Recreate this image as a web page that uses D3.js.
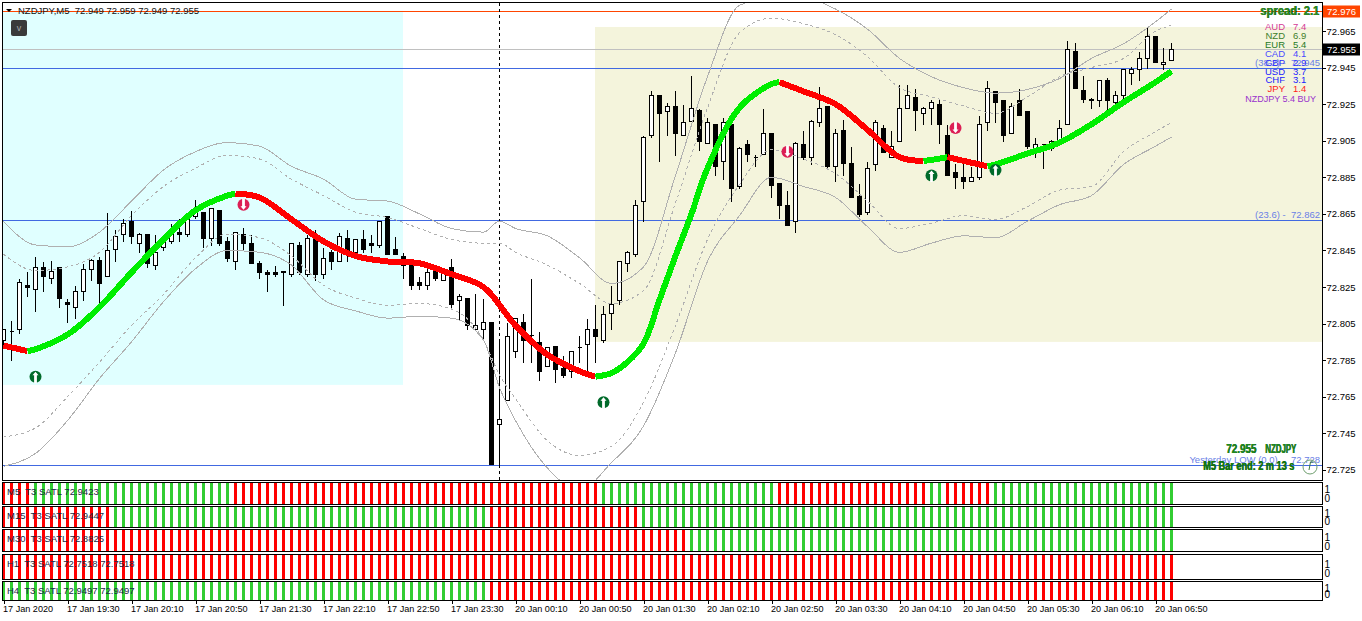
<!DOCTYPE html>
<html>
<head>
<meta charset="utf-8">
<script src="https://cdnjs.cloudflare.com/ajax/libs/d3/7.8.5/d3.min.js"></script>
<style>
  body { margin: 0; background: #fff; }
  text { font-family: "Liberation Sans", sans-serif; font-size: 9.5px; white-space: pre; }
</style>
</head>
<body>
<div id="chart-area"></div>
<script>
// candles, one value per M5 bar
const candleOpen = [
  72.796,72.801,72.802,72.826,72.824,72.836,72.830,72.836,72.817,72.814,
  72.823,72.835,72.840,72.831,72.846,72.854,72.861,72.849,72.854,72.837,
  72.847,72.850,72.855,72.854,72.864,72.866,72.852,72.867,72.850,72.839,
  72.854,72.849,72.838,72.833,72.833,72.833,72.832,72.848,72.832,72.854,
  72.832,72.844,72.839,72.852,72.844,72.851,72.849,72.848,72.864,72.846,
  72.842,72.837,72.828,72.826,72.834,72.829,72.836,72.818,72.819,72.802,
  72.802,72.806,72.750,72.763,72.790,72.806,72.799,72.795,72.782,72.793,
  72.781,72.779,72.792,72.794,72.802,72.796,72.811,72.818,72.838,72.843,
  72.872,72.908,72.930,72.921,72.924,72.908,72.916,72.922,72.904,72.914,
  72.894,72.914,72.880,72.903,72.896,72.898,72.909,72.882,72.870,72.861,
  72.903,72.896,72.915,72.924,72.891,72.911,72.893,72.875,72.866,72.892,
  72.912,72.896,72.905,72.923,72.929,72.920,72.923,72.925,72.908,72.888,
  72.885,72.883,72.885,72.915,72.932,72.927,72.909,72.927,72.921,72.901,
  72.903,72.901,72.905,72.914,72.954,72.933,72.927,72.927,72.938,72.926,
  72.930,72.942,72.944,72.950,72.962,72.947,72.949];
const candleHigh = [
  72.802,72.807,72.830,72.834,72.842,72.839,72.840,72.836,72.819,72.826,
  72.838,72.841,72.842,72.866,72.857,72.863,72.867,72.855,72.854,72.854,
  72.851,72.860,72.863,72.866,72.873,72.866,72.868,72.867,72.853,72.855,
  72.858,72.854,72.840,72.835,72.837,72.834,72.849,72.850,72.854,72.857,
  72.847,72.846,72.855,72.857,72.852,72.857,72.854,72.861,72.864,72.853,
  72.844,72.837,72.831,72.838,72.836,72.835,72.841,72.822,72.819,72.822,
  72.819,72.806,72.797,72.806,72.808,72.811,72.830,72.801,72.792,72.793,
  72.788,72.790,72.799,72.808,72.816,72.815,72.826,72.839,72.845,72.873,
  72.908,72.933,72.930,72.926,72.933,72.925,72.941,72.923,72.918,72.914,
  72.918,72.914,72.902,72.906,72.898,72.923,72.909,72.882,72.878,72.905,
  72.911,72.917,72.935,72.924,72.912,72.917,72.902,72.882,72.894,72.917,
  72.914,72.911,72.936,72.936,72.934,72.924,72.928,72.928,72.914,72.893,
  72.893,72.891,72.919,72.938,72.932,72.927,72.926,72.934,72.921,72.907,
  72.904,72.906,72.917,72.960,72.959,72.941,72.929,72.938,72.940,72.933,
  72.945,72.946,72.954,72.967,72.963,72.956,72.959];
const candleLow = [
  72.793,72.785,72.800,72.820,72.812,72.823,72.827,72.814,72.806,72.808,
  72.818,72.829,72.816,72.831,72.839,72.850,72.849,72.844,72.836,72.835,
  72.845,72.849,72.850,72.853,72.863,72.847,72.848,72.848,72.839,72.835,
  72.846,72.838,72.830,72.823,72.831,72.815,72.831,72.832,72.831,72.829,
  72.830,72.835,72.839,72.839,72.843,72.844,72.844,72.847,72.843,72.843,
  72.830,72.824,72.824,72.824,72.829,72.829,72.814,72.807,72.802,72.802,
  72.796,72.728,72.728,72.763,72.787,72.784,72.784,72.774,72.782,72.773,
  72.776,72.776,72.784,72.779,72.784,72.795,72.802,72.816,72.834,72.842,
  72.861,72.907,72.894,72.908,72.897,72.908,72.916,72.900,72.904,72.886,
  72.884,72.872,72.879,72.894,72.891,72.898,72.874,72.863,72.859,72.855,
  72.895,72.892,72.913,72.890,72.883,72.886,72.874,72.864,72.865,72.889,
  72.899,72.896,72.905,72.923,72.911,72.914,72.914,72.904,72.886,72.879,
  72.879,72.883,72.884,72.911,72.915,72.905,72.909,72.919,72.901,72.896,
  72.890,72.900,72.905,72.914,72.934,72.926,72.923,72.924,72.921,72.924,
  72.925,72.936,72.938,72.945,72.948,72.944,72.949];
const candleClose = [
  72.802,72.801,72.828,72.825,72.836,72.831,72.834,72.819,72.816,72.823,
  72.835,72.840,72.827,72.845,72.853,72.860,72.853,72.854,72.838,72.844,
  72.850,72.856,72.854,72.863,72.866,72.852,72.868,72.849,72.841,72.855,
  72.849,72.838,72.833,72.832,72.832,72.834,72.849,72.833,72.852,72.832,
  72.841,72.839,72.853,72.845,72.851,72.846,72.848,72.861,72.843,72.843,
  72.837,72.826,72.826,72.833,72.830,72.833,72.816,72.820,72.804,72.804,
  72.806,72.728,72.753,72.798,72.808,72.796,72.799,72.779,72.792,72.780,
  72.777,72.790,72.792,72.802,72.798,72.810,72.816,72.839,72.844,72.870,
  72.907,72.930,72.920,72.924,72.909,72.915,72.923,72.905,72.915,72.891,
  72.915,72.879,72.901,72.898,72.896,72.909,72.881,72.870,72.859,72.904,
  72.896,72.916,72.923,72.891,72.909,72.893,72.874,72.865,72.890,72.915,
  72.899,72.902,72.923,72.930,72.922,72.923,72.926,72.914,72.886,72.885,
  72.883,72.885,72.914,72.934,72.926,72.908,72.924,72.919,72.902,72.903,
  72.903,72.905,72.912,72.955,72.934,72.928,72.928,72.938,72.927,72.930,
  72.944,72.944,72.950,72.962,72.948,72.948,72.955];

// envelope bands, read every 4th bar
const bandBars = [0,4,8,12,16,20,24,28,32,36,40,44,48,52,56,60,62,64,68,72,76,80,84,88,92,96,100,104,108,112,116,120,124,128,132,136,140,144,146];
const upperOuter = [72.861,72.848,72.847,72.855,72.872,72.889,72.899,72.904,72.902,72.891,72.884,72.873,72.872,72.865,72.857,72.855,72.861,72.857,72.853,72.841,72.827,72.836,72.886,72.940,72.979,72.983,72.983,72.977,72.966,72.950,72.940,72.934,72.931,72.933,72.939,72.950,72.958,72.970,72.977];
const upperInner = [72.843,72.834,72.836,72.844,72.864,72.880,72.890,72.897,72.895,72.884,72.875,72.866,72.863,72.857,72.851,72.849,72.849,72.844,72.837,72.827,72.816,72.823,72.871,72.923,72.964,72.972,72.969,72.963,72.951,72.934,72.929,72.924,72.920,72.929,72.940,72.945,72.950,72.965,72.968];
const lowerInner = [72.743,72.748,72.765,72.784,72.804,72.821,72.841,72.854,72.852,72.842,72.826,72.819,72.815,72.816,72.813,72.796,72.777,72.764,72.741,72.733,72.738,72.762,72.804,72.851,72.881,72.900,72.895,72.887,72.872,72.857,72.860,72.864,72.862,72.869,72.878,72.880,72.899,72.910,72.915];
const lowerOuter = [72.727,72.734,72.752,72.775,72.795,72.817,72.835,72.845,72.844,72.837,72.818,72.812,72.808,72.809,72.808,72.796,72.770,72.752,72.726,72.714,72.729,72.749,72.789,72.839,72.864,72.885,72.880,72.874,72.858,72.844,72.849,72.853,72.852,72.861,72.870,72.875,72.892,72.902,72.907];

// T3 line
const t3Bars = [0,3,4,8,12,16,20,24,28,29,32,36,40,44,48,52,56,60,64,68,72,74,76,78,80,82,84,86,88,92,96,97,100,104,108,112,115,116,118,120,123,124,128,132,136,140,144,146];
const t3Values = [72.793,72.790,72.791,72.799,72.814,72.833,72.851,72.867,72.875,72.876,72.874,72.862,72.850,72.842,72.839,72.838,72.832,72.825,72.804,72.788,72.779,72.776,72.778,72.784,72.794,72.818,72.842,72.865,72.890,72.923,72.936,72.937,72.932,72.925,72.911,72.896,72.894,72.8945,72.896,72.894,72.891,72.892,72.898,72.904,72.914,72.926,72.937,72.943];
const t3Flips = [3,29,74,97,115,118,123];
// first bar of each new colour in the rows
const m5Flips = [4,29,75,97,116,118,124];
const m15Flips = [14,61,80];
const m30Flips = [86];
const h1Flips = [];
const h4Flips = [61];

// fibo levels and price lines
const fiboLevels = [72.9447, 72.8615, 72.7275];
const fiboLabels = ["(38.2) -  72.945", "(23.6) -  72.862", "Yesterday LOW (0.0)     72.728"];
const askPrice = 72.976;
const bidPrice = 72.955;

// session boxes: from bar, to bar, top price, bottom price
const boxBars = [[0, 50], [74, 165.5]];
const boxPrices = [[72.976, 72.7715], [72.9672, 72.795]];
const separatorBar = 62;

// arrows
const buyBars = [4, 75, 116, 124];
const buyPrices = [72.776, 72.762, 72.886, 72.889];
const sellBars = [30, 98, 119];
const sellPrices = [72.870, 72.899, 72.912];

// strength table
const currencies = ["AUD","NZD","EUR","CAD","GBP","USD","CHF","JPY"];
const strengths = ["7.4","6.9","5.4","4.1","2.9","3.7","3.1","1.4"];
const currencyColors = ["#d43a96","#3f7f2a","#1f7a1f","#4a4aff","#2a2aff","#1a1aff","#1a1aff","#ff1a1a"];

// axes
const priceTicks = [72.965,72.945,72.925,72.905,72.885,72.865,72.845,72.825,72.805,72.785,72.765,72.745,72.725];
const timeBars = [0,8,16,24,32,40,48,56,64,72,80,88,96,104,112,120,128,136,144];
const timeLabels = ["17 Jan 2020","17 Jan 19:30","17 Jan 20:10","17 Jan 20:50","17 Jan 21:30","17 Jan 22:10","17 Jan 22:50","17 Jan 23:30","20 Jan 00:10","20 Jan 00:50","20 Jan 01:30","20 Jan 02:10","20 Jan 02:50","20 Jan 03:30","20 Jan 04:10","20 Jan 04:50","20 Jan 05:30","20 Jan 06:10","20 Jan 06:50"];

// setting chart dimensions
const width = 1362, height = 621;
const frame = { lft: 2.5, rht: 1322.5, top: 2.5, bot: 480.5 };

const svg = d3.select("#chart-area")
  .append("svg")
    .attr("width", width)
    .attr("height", height)
    .style("display", "block");

svg.append("clipPath").attr("id", "main-clip")
  .append("rect")
    .attr("x", frame.lft).attr("y", frame.top)
    .attr("width", frame.rht - frame.lft)
    .attr("height", frame.bot - frame.top);

const x = d3.scaleLinear().domain([0, 146]).range([3.5, 1171.5]);
const y = d3.scaleLinear().domain([72.7195, 72.9803]).range([480, 3]);
const py = (v) => Math.round(y(v)) + 0.5;

const g = svg.append("g").attr("clip-path", "url(#main-clip)");

// boxes
g.selectAll("rect.box")
  .data(boxBars)
  .enter().append("rect")
    .attr("class", "box")
    .attr("x", (d) => x(d[0]) - 0.5)
    .attr("width", (d) => x(d[1]) - x(d[0]))
    .attr("y", (d, i) => y(boxPrices[i][0]))
    .attr("height", (d, i) => y(boxPrices[i][1]) - y(boxPrices[i][0]))
    .attr("fill", (d, i) => i === 0 ? "#e0ffff" : "#f4f4dc");

// horizontal lines
const hline = (price, color) => g.append("line")
  .attr("x1", frame.lft).attr("x2", frame.rht)
  .attr("y1", py(price)).attr("y2", py(price))
  .attr("stroke", color)
  .attr("shape-rendering", "crispEdges");

hline(bidPrice, "#c0c0c0");
hline(askPrice, "#ff4500");
fiboLevels.forEach((d) => hline(d, "#4169e1"));

// period separator
g.append("line")
  .attr("x1", x(separatorBar)).attr("x2", x(separatorBar))
  .attr("y1", frame.top).attr("y2", frame.bot)
  .attr("stroke", "#000")
  .attr("stroke-dasharray", "3,3")
  .attr("shape-rendering", "crispEdges");

// candles
const candles = g.selectAll("g.candle")
  .data(candleOpen)
  .enter().append("g")
    .attr("class", "candle")
    .attr("stroke", "#000")
    .attr("shape-rendering", "crispEdges");

candles.append("line")
  .attr("x1", (d, i) => x(i)).attr("x2", (d, i) => x(i))
  .attr("y1", (d, i) => py(candleHigh[i]))
  .attr("y2", (d, i) => py(candleLow[i]) + 0.5);

candles.append("path")
  .attr("d", (d, i) => {
    const t = py(Math.max(d, candleClose[i]));
    const b = py(Math.min(d, candleClose[i]));
    return `M${x(i) - 2},${t}H${x(i) + 2}V${b}H${x(i) - 2}Z`;
  })
  .attr("fill", (d, i) => candleClose[i] < d ? "#000" : "#fff");

// bands
const bandLine = d3.line()
  .x((d, i) => x(bandBars[i]))
  .y((d) => y(d))
  .curve(d3.curveMonotoneX);

[upperOuter, lowerOuter, upperInner, lowerInner].forEach((band, k) => {
  g.append("path")
    .attr("d", bandLine(band))
    .attr("fill", "none")
    .attr("stroke", "#b0b0b0")
    .attr("stroke-dasharray", k > 1 ? "3,3" : null)
    .attr("shape-rendering", "crispEdges");
});

// T3 line, cut at each flip
const t3Line = d3.line()
  .x((d) => x(t3Bars[d]))
  .y((d) => y(t3Values[d]))
  .curve(d3.curveCatmullRom);

const cuts = [0].concat(t3Flips.map((f) => t3Bars.indexOf(f)), [t3Bars.length - 1]);
d3.pairs(cuts).forEach((c, i) => {
  g.append("path")
    .attr("d", t3Line(d3.range(c[0], c[1] + 1)))
    .attr("fill", "none")
    .attr("stroke", i % 2 === 0 ? "#ff0000" : "#00ee00")
    .attr("stroke-width", 6)
    .attr("shape-rendering", "crispEdges");
});

// arrows
const arrow = (bar, price, color, up) => {
  const a = g.append("g")
    .attr("transform", `translate(${x(bar)},${y(price)})${up ? "" : " rotate(180)"}`);
  a.append("circle").attr("r", 6).attr("fill", color);
  a.append("path")
    .attr("d", "M0,-5L3,-1.5H1.4V6.5H-1.4V-1.5H-3Z")
    .attr("fill", "#fff");
};
buyBars.forEach((b, i) => arrow(b, buyPrices[i], "#006a2a", true));
sellBars.forEach((b, i) => arrow(b, sellPrices[i], "#dc1f55", false));

// fibo labels
fiboLevels.forEach((d, i) => {
  svg.append("text")
    .attr("x", 1320)
    .attr("y", py(d) - 3)
    .attr("text-anchor", "end")
    .attr("fill", "#6a80e6")
    .text(fiboLabels[i]);
});

// strength table
currencies.forEach((d, i) => {
  svg.append("text").attr("x", 1285).attr("y", 30 + i * 8.9)
    .attr("text-anchor", "end").attr("fill", currencyColors[i]).text(d);
  svg.append("text").attr("x", 1293).attr("y", 30 + i * 8.9)
    .attr("fill", currencyColors[i]).text(strengths[i]);
});
svg.append("text").attr("x", 1316).attr("y", 102)
  .attr("text-anchor", "end").attr("fill", "#9932cc")
  .style("font-size", "9px").text("NZDJPY 5.4 BUY");

// bold labels with a dark edge, squeezed to the width they have on screen
const loud = (txt, px, py0, len, size, fill) => {
  [["#0b4f0b", 0.6], [fill, 0]].forEach((s) => {
    svg.append("text")
      .attr("x", px + s[1]).attr("y", py0 + s[1] / 2)
      .attr("font-weight", "bold")
      .attr("textLength", len)
      .attr("lengthAdjust", "spacingAndGlyphs")
      .style("font-size", size + "px")
      .attr("fill", s[0])
      .text(txt);
  });
};
loud("spread: 2.1", 1260, 15, 59, 12, "#2e8b22");
loud("72.955", 1226, 452.5, 30, 13, "#1f8a1f");
loud("NZDJPY", 1265, 452.5, 31, 13, "#1f8a1f");
loud("M5 Bar end: 2 m 13 s", 1203, 469.5, 91, 13, "#0f7a0f");

// clock
const clock = svg.append("g").attr("transform", "translate(1310,467)");
clock.append("circle").attr("r", 7).attr("fill", "none").attr("stroke", "#6f9f6f");
clock.append("path").attr("d", "M0.5,-5L-1,3M0.5,-5H3").attr("fill", "none").attr("stroke", "#3f7f3f");

// header
svg.append("path").attr("d", "M6,9H12L9,12Z").attr("fill", "#000");
svg.append("text").attr("x", 18).attr("y", 14).attr("fill", "#111")
  .text("NZDJPY,M5  72.949 72.959 72.949 72.955");
svg.append("rect").attr("x", 11).attr("y", 20).attr("width", 16).attr("height", 16)
  .attr("rx", 2).attr("fill", "#3a3a3a");
svg.append("text").attr("x", 19).attr("y", 31).attr("text-anchor", "middle")
  .attr("fill", "#aaa").style("font-size", "9px").text("v");

// indicator rows
const rowNames = ["M5  T3 SATL 72.9423", "M15  T3 SATL 72.9447", "M30  T3 SATL 72.8825", "H1  T3 SATL 72.7518 72.7518", "H4  T3 SATL 72.9497 72.9497"];
const rowFlips = [m5Flips, m15Flips, m30Flips, h1Flips, h4Flips];
const rowStartGreen = [false, false, false, false, true];
const rowTops = [482.5, 506.5, 529.5, 554.5, 581.5];
const rowBots = [504.5, 527.5, 551.5, 579.5, 600.5];
const rowTextY = [494.5, 518.5, 542, 567, 594];
const rowOne = [489, 513, 537, 564, 588];
const rowZero = [498, 521, 546, 573, 594];

rowNames.forEach((name, r) => {
  const row = svg.append("g");
  const bars = d3.range(0, 147);
  row.selectAll("rect")
    .data(bars)
    .enter().append("rect")
      .attr("x", (d) => x(d) - 1.5)
      .attr("width", 3)
      .attr("y", rowTops[r])
      .attr("height", rowBots[r] - rowTops[r])
      .attr("shape-rendering", "crispEdges")
      .attr("fill", (d) => {
        const odd = d3.bisectRight(rowFlips[r], d) % 2 === 1;
        return odd !== rowStartGreen[r] ? "#32cd32" : "#ff0000";
      });
  row.append("rect")
    .attr("x", frame.lft).attr("y", rowTops[r])
    .attr("width", frame.rht - frame.lft)
    .attr("height", rowBots[r] - rowTops[r])
    .attr("fill", "none")
    .attr("stroke", "#000")
    .attr("shape-rendering", "crispEdges");
  row.append("text")
    .attr("x", 7)
    .attr("y", rowTextY[r])
    .attr("fill", "#1a2a44")
    .text(name);

  const rowY = d3.scaleLinear().domain([0, 1]).range([rowZero[r], rowOne[r]]);
  const rowAxis = row.append("g")
    .attr("transform", `translate(${frame.rht},0)`)
    .call(d3.axisRight(rowY).tickValues([0, 1]).tickSize(0).tickPadding(2).tickFormat(d3.format("d")));
  rowAxis.select(".domain").remove();
  rowAxis.selectAll("text").style("font-family", "'Liberation Sans',sans-serif").style("font-size", "10px").attr("fill", "#000");
});

// main frame
svg.append("rect")
  .attr("x", frame.lft).attr("y", frame.top)
  .attr("width", frame.rht - frame.lft)
  .attr("height", frame.bot - frame.top)
  .attr("fill", "none")
  .attr("stroke", "#000")
  .attr("shape-rendering", "crispEdges");

// price axis
const yAxis = svg.append("g")
  .attr("transform", `translate(${frame.rht},0)`)
  .call(d3.axisRight(y).tickValues(priceTicks).tickSize(3).tickPadding(1).tickFormat(d3.format(".3f")));
yAxis.select(".domain").remove();
yAxis.selectAll("text").style("font-family", "'Liberation Sans',sans-serif").style("font-size", "9.5px").attr("fill", "#000");
yAxis.selectAll("line").attr("stroke", "#000").attr("shape-rendering", "crispEdges");

// time axis
const xAxis = svg.append("g")
  .attr("transform", "translate(0,600.5)")
  .call(d3.axisBottom(x).tickValues(timeBars).tickSize(3).tickPadding(2).tickFormat((d, i) => timeLabels[i]));
xAxis.select(".domain").remove();
xAxis.selectAll("text")
  .attr("text-anchor", "start")
  .attr("dx", "-1")
  .style("font-family", "'Liberation Sans',sans-serif")
  .style("font-size", "9.1px")
  .attr("fill", "#000");
xAxis.selectAll("line").attr("stroke", "#000").attr("shape-rendering", "crispEdges");

// price tags
const tag = (price, fill) => {
  const t = py(price);
  svg.append("rect").attr("x", 1323).attr("y", t - 6).attr("width", 37).attr("height", 12).attr("fill", fill);
  svg.append("text").attr("x", 1327).attr("y", t + 3.5).attr("fill", "#fff").text(d3.format(".3f")(price));
};
tag(askPrice, "#ff4500");
tag(bidPrice, "#000");
</script>
</body>
</html>
